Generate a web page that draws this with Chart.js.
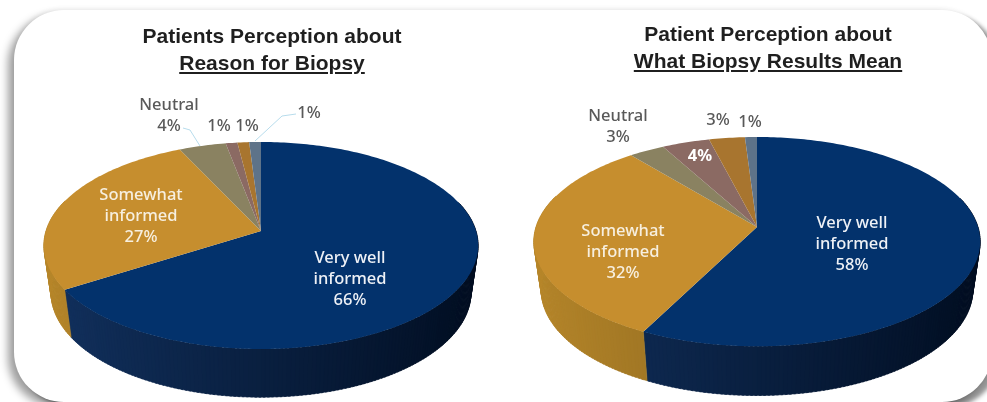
<!DOCTYPE html>
<html>
<head>
<meta charset="utf-8">
<script src="https://cdn.jsdelivr.net/npm/chart.js@4"></script>
<style>
    html, body { margin: 0; padding: 0; background: #fff; }
    #page { position: relative; width: 987px; height: 402px; overflow: hidden; background: #fff; }
    #card {
        position: absolute; left: 14px; top: 10px; width: 978px; height: 392px;
        border-radius: 50px; background: #fff;
        box-shadow: -6px 5px 9px rgba(0,0,0,.38), 7px 5px 4px rgba(0,0,0,.4), 0 -2px 4px rgba(0,0,0,.04);
    }
    canvas { position: absolute; top: 0; filter: blur(0.5px); }
    #leftCanvas { left: 0; }
    #rightCanvas { left: 500px; }
    .title {
        position: absolute; text-align: center; white-space: nowrap;
        font: 700 21px/27px "Liberation Sans", sans-serif; color: #1f1f1f;
        filter: blur(0.45px); transform: translateX(-50%);
    }
</style>
</head>
<body>
<div id="page">
    <div id="card"></div>
    <canvas id="leftCanvas" width="500" height="402"></canvas>
    <canvas id="rightCanvas" width="487" height="402"></canvas>
    <div class="title" style="left:272px;top:22px">Patients Perception about<br><u>Reason for Biopsy</u></div>
    <div class="title" style="left:768px;top:20px">Patient Perception about<br><u>What Biopsy Results Mean</u></div>
</div>
<script>
// 数据
const categories = ['Very well informed', 'Somewhat informed', 'Neutral', 'Somewhat uninformed', 'Not informed', 'Unsure'];
const reasonValues = [66, 27, 4, 1, 1, 1];
const resultsValues = [58, 32, 3, 4, 3, 1];
const sliceColors = ['#03326c', '#c68e2e', '#8a8261', '#8b6a63', '#a8752f', '#5e7389'];

// 每个扇区的侧面颜色（左亮右暗）
const wallColors = [
    [[18, 50, 96], [1, 13, 32]],
    [[182, 134, 42], [110, 82, 22]],
    [[120, 112, 84], [90, 84, 60]],
    [[120, 92, 86], [90, 70, 64]],
    [[146, 102, 40], [110, 76, 30]],
    [[82, 100, 120], [60, 74, 90]]
];

// 标签位置（画布坐标），文字来自 categories / values
const reasonLabels = [
    { slice: 0, x: 350, y: 258, named: ['Very well', 'informed'], color: '#eef1f6' },
    { slice: 1, x: 141, y: 195, named: ['Somewhat', 'informed'], color: '#f7efdf' },
    { slice: 2, x: 169, y: 105, named: ['Neutral'], color: '#595959' },
    { slice: 3, x: 219, y: 126, named: [], color: '#595959' },
    { slice: 4, x: 247, y: 126, named: [], color: '#595959' },
    { slice: 5, x: 309, y: 113, named: [], color: '#595959' }
];
const resultsLabels = [
    { slice: 0, x: 352, y: 223, named: ['Very well', 'informed'], color: '#eef1f6' },
    { slice: 1, x: 123, y: 231, named: ['Somewhat', 'informed'], color: '#f7efdf' },
    { slice: 2, x: 118, y: 116, named: ['Neutral'], color: '#595959' },
    { slice: 3, x: 200, y: 156, named: [], color: '#ffffff', heavy: true },
    { slice: 4, x: 218, y: 120, named: [], color: '#595959' },
    { slice: 5, x: 250, y: 122, named: [], color: '#595959' }
];

// 引线
const reasonLeaders = [
    [[183, 128], [190, 130], [200, 146]],
    [[296, 114], [282, 116], [255, 141]]
];

// 透视投影：把圆盘上的角度投到屏幕
function project(view, angle, lower) {
    const u = Math.cos(angle);
    const v = Math.sin(angle);
    const s = 1 / (1 - view.tilt * v);
    if (lower) {
        return {
            x: view.cx + view.rx * 0.967 * u * s,
            y: view.cy + view.depth + view.ry * 1.01 * v * s
        };
    }
    return { x: view.cx + view.rx * u * s, y: view.cy + view.ry * v * s };
}

function mixColor(pair, t) {
    const c = pair[0].map((a, i) => Math.round(a + (pair[1][i] - a) * t));
    return `rgb(${c[0]},${c[1]},${c[2]})`;
}

const pie3d = {
    id: 'pie3d',
    beforeDatasetDraw(chart, args, opts) {
        const ctx = chart.ctx;
        const view = opts.view;
        const arcs = args.meta.data;
        const step = Math.PI / 180;

        // 侧面
        arcs.forEach((arc, i) => {
            for (let a = arc.startAngle; a < arc.endAngle; a += step) {
                const b = Math.min(a + step * 1.5, arc.endAngle);
                if (Math.sin(a) < -0.3) continue;
                const p1 = project(view, a), p2 = project(view, b);
                const p3 = project(view, b, true), p4 = project(view, a, true);
                const fill = mixColor(wallColors[i], (Math.cos(a) + 1) / 2);
                ctx.fillStyle = fill;
                ctx.strokeStyle = fill;
                ctx.lineWidth = 0.5;
                ctx.beginPath();
                ctx.moveTo(p1.x, p1.y);
                ctx.lineTo(p2.x, p2.y);
                ctx.lineTo(p3.x, p3.y);
                ctx.lineTo(p4.x, p4.y);
                ctx.closePath();
                ctx.fill();
                ctx.stroke();
            }
        });

        // 顶面
        arcs.forEach(arc => {
            ctx.fillStyle = arc.options.backgroundColor;
            ctx.beginPath();
            ctx.moveTo(view.cx, view.cy);
            for (let a = arc.startAngle; a < arc.endAngle; a += step) {
                const p = project(view, a);
                ctx.lineTo(p.x, p.y);
            }
            const last = project(view, arc.endAngle);
            ctx.lineTo(last.x, last.y);
            ctx.closePath();
            ctx.fill();
        });
        return false;
    },
    afterDatasetsDraw(chart, args, opts) {
        const ctx = chart.ctx;
        const values = chart.data.datasets[0].data;

        ctx.strokeStyle = '#b7dcec';
        ctx.lineWidth = 1;
        (opts.leaders || []).forEach(line => {
            ctx.beginPath();
            line.forEach((pt, i) => i ? ctx.lineTo(pt[0], pt[1]) : ctx.moveTo(pt[0], pt[1]));
            ctx.stroke();
        });

        ctx.textAlign = 'center';
        ctx.textBaseline = 'middle';
        opts.labels.forEach(label => {
            ctx.fillStyle = label.color;
            ctx.font = (label.heavy ? '700' : '500') + ' 16.5px "Noto Sans", sans-serif';
            const lines = label.named.concat([values[label.slice] + '%']);
            lines.forEach((text, i) => ctx.fillText(text, label.x, label.y + i * 21));
        });
    }
};

function drawPie(id, values, view, labels, leaders) {
    new Chart(document.getElementById(id), {
        type: 'pie',
        data: {
            labels: categories,
            datasets: [{ data: values, backgroundColor: sliceColors, borderWidth: 0 }]
        },
        options: {
            responsive: false,
            animation: false,
            plugins: {
                legend: { display: false },
                tooltip: { enabled: false },
                pie3d: { view: view, labels: labels, leaders: leaders }
            }
        },
        plugins: [pie3d]
    });
}

document.addEventListener('DOMContentLoaded', () => {
    drawPie('leftCanvas', reasonValues, { cx: 261, cy: 231, rx: 215, ry: 101.5, tilt: 0.14, depth: 47 }, reasonLabels, reasonLeaders);
    drawPie('rightCanvas', resultsValues, { cx: 257, cy: 227, rx: 221, ry: 102.6, tilt: 0.14, depth: 48 }, resultsLabels, []);
});
</script>
</body>
</html>
